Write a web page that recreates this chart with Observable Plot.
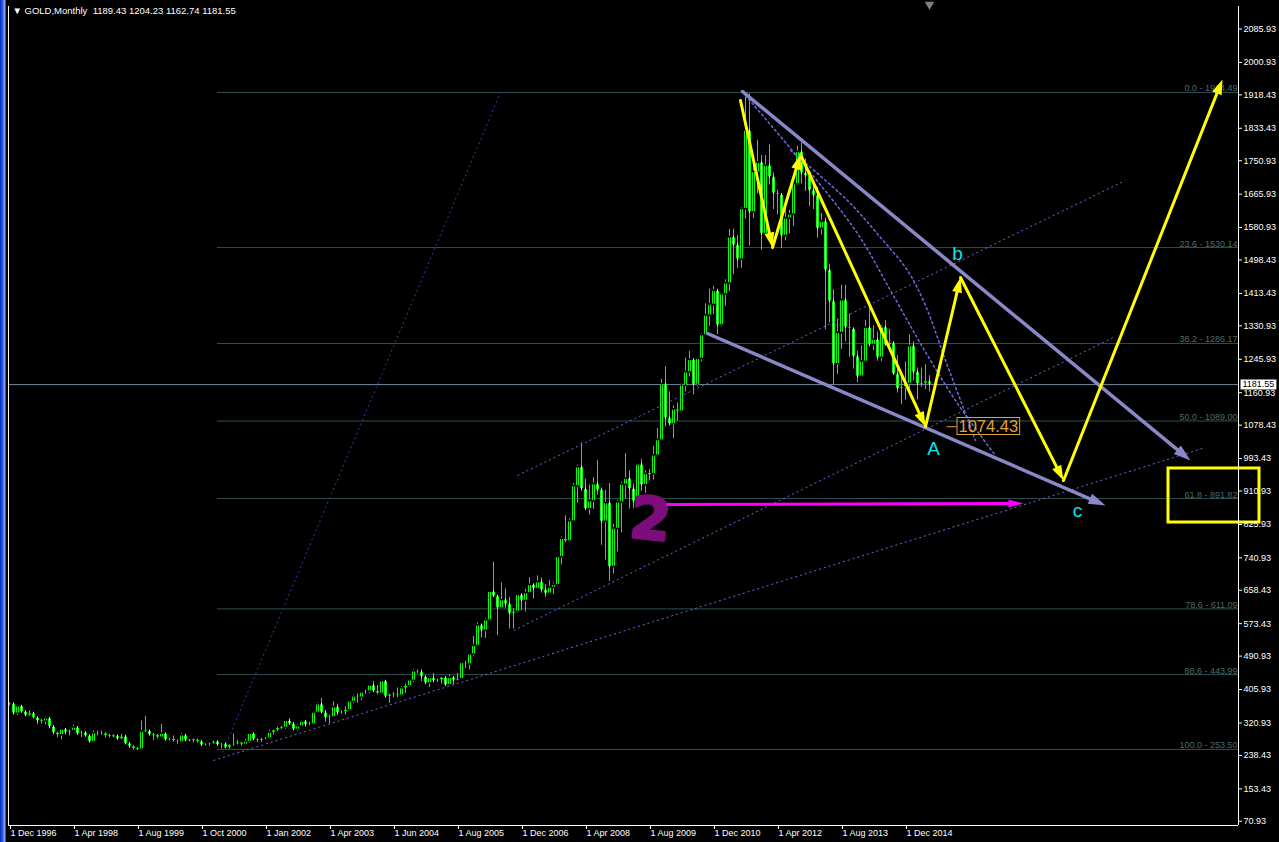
<!DOCTYPE html>
<html><head><meta charset="utf-8">
<script src="https://cdn.jsdelivr.net/npm/d3@7"></script>
<script src="https://cdn.jsdelivr.net/npm/@observablehq/plot@0.6"></script>
<style>
html,body{margin:0;padding:0;background:#000;}
#wrap{position:relative;width:1279px;height:842px;overflow:hidden;background:#000;}
#edge{position:absolute;left:0;top:0;width:6px;height:842px;background:linear-gradient(to right,#0a2fb8 0,#2a5ee8 45%,#7fa2f2 75%,#0a2fb8 100%);}
</style></head>
<body><div id="wrap"><div id="edge"></div></div>
<script>
// ---------- DATA (monthly bars, index 0 = 1 Dec 1996) ----------
const open = [371,
369,345,363,349,340,345,334,326,325,332,311,296,
290,304,297,301,309,293,296,288,273,294,292,294,
288,287,287,280,286,268,261,255,254,299,300,291,
290,284,293,278,280,275,272,289,276,277,278,273,264,266,269,
273,265,267,258,264,267,271,266,273,293,279,275,
279,282,296,302,308,309,326,318,304,312,324,316,318,
347,368,347,334,336,361,346,349,354,375,388,386,398,401,
416,402,396,427,388,393,395,391,409,415,429,452,450,
438,422,435,428,430,436,417,436,429,433,473,470,495,
517,569,556,582,654,643,613,633,623,599,604,646,
632,651,672,662,679,659,650,665,672,743,789,783,
834,923,971,916,865,885,928,913,833,880,718,815,
882,927,942,916,884,978,926,954,954,1001,1040,1182,
1096,1081,1118,1113,1179,1213,1244,1181,1247,1307,1357,1385,
1420,1332,1411,1439,1556,1536,1500,1628,1827,1620,1722,1746,
1565,1738,1709,1668,1664,1560,1604,1614,1691,1773,1719,1712,
1675,1662,1578,1596,1472,1393,1234,1313,1396,1327,1323,1253,
1202,1240,1326,1283,1295,1250,1327,1282,1287,1208,1171,1175,
1184,1279,1213,1183,1184,1189.43];
const high = [372,
370,366,364,349,352,346,335,330,336,334,313,298,
307,304,303,315,312,300,297,289,300,300,300,297,
292,291,290,292,290,268,264,259,326,338,302,294,
292,317,294,282,288,278,294,292,279,280,280,275,268,270,275,
274,269,269,266,293,277,271,279,294,294,280,282,
284,302,303,310,312,328,332,322,316,327,325,323,350,
372,383,353,341,375,369,352,362,376,392,395,400,404,418,
427,416,430,428,394,398,410,413,420,430,456,456,456,
438,439,447,432,437,437,443,436,447,474,478,497,541,
575,573,587,654,730,645,677,662,640,612,648,649,
661,690,673,695,690,673,683,677,744,794,848,840,
930,976,1033,941,926,945,988,919,913,930,826,887,
933,1006,962,929,981,992,962,966,1025,1070,1195,1227,
1163,1127,1135,1183,1249,1266,1246,1250,1310,1387,1424,1432,
1424,1413,1448,1576,1577,1561,1632,1912,1921,1756,1803,1764,
1764,1791,1720,1676,1668,1641,1625,1692,1788,1796,1755,1725,
1696,1683,1617,1605,1488,1423,1348,1434,1434,1361,1324,1267,
1280,1345,1392,1331,1315,1332,1345,1322,1290,1255,1200,1239,
1308,1290,1224,1224,1232,1204.23];
const low = [365,
341,340,346,337,338,334,317,318,316,306,291,283,
278,290,288,300,290,284,285,271,272,288,290,282,
283,283,278,278,267,256,252,251,253,297,288,276,
280,282,276,275,272,267,271,274,273,270,270,263,262,262,267,
262,255,256,254,262,265,262,264,269,276,271,272,
278,281,290,299,305,305,316,301,300,312,310,314,316,
345,346,323,319,334,340,343,341,352,370,371,378,394,396,
398,392,394,384,371,385,385,389,396,411,424,446,426,
418,411,423,424,420,414,414,418,428,433,459,456,489,
516,538,536,581,641,543,613,612,560,560,601,606,
603,648,636,662,651,640,648,648,669,723,780,780,
834,880,910,862,850,864,901,773,735,681,700,756,
805,890,865,866,880,910,905,936,939,1000,1040,1074,
1076,1044,1088,1110,1163,1201,1155,1176,1240,1307,1330,1360,
1309,1328,1381,1418,1462,1477,1478,1602,1535,1604,1667,1523,
1565,1689,1627,1613,1527,1547,1565,1584,1687,1692,1673,1635,
1627,1554,1562,1321,1338,1180,1207,1271,1290,1251,1221,1187,
1202,1238,1277,1268,1241,1240,1281,1273,1206,1160,1131,1142,
1167,1191,1142,1175,1169,1162.74];
const close = [369,
345,363,349,340,345,334,326,325,332,311,296,290,
304,297,301,309,293,296,288,273,294,292,294,288,
287,287,280,286,268,261,255,254,299,300,291,290,
284,293,278,280,275,272,289,276,277,278,273,264,266,269,273,
265,267,258,264,267,271,266,273,293,279,275,279,
282,296,302,308,309,326,318,304,312,324,316,318,347,
368,347,334,336,361,346,349,354,375,388,386,398,401,416,
402,396,427,388,393,395,391,409,415,429,452,450,438,
422,435,428,430,436,417,436,429,433,473,470,495,517,
569,556,582,654,643,613,633,623,599,604,646,632,
651,672,662,679,659,650,665,672,743,789,783,834,
923,971,916,865,885,928,913,833,880,718,815,882,
927,942,916,884,978,926,954,954,1001,1040,1182,1096,
1081,1118,1113,1179,1213,1244,1181,1247,1307,1357,1385,1420,
1332,1411,1439,1556,1536,1500,1628,1827,1620,1722,1746,1565,
1738,1709,1668,1664,1560,1604,1614,1691,1773,1719,1712,1675,
1662,1578,1596,1472,1393,1234,1313,1396,1327,1323,1253,1202,
1240,1326,1283,1295,1250,1327,1282,1287,1208,1171,1175,1184,
1279,1213,1183,1184,1190,1181.55];

const xTickIndex = [0,16,32,48,64,80,96,112,128,144,160,176,192,208,224];
const xTickLabels = ["1 Dec 1996","1 Apr 1998","1 Aug 1999","1 Oct 2000","1 Jan 2002","1 Apr 2003","1 Jun 2004","1 Aug 2005","1 Dec 2006","1 Apr 2008","1 Aug 2009","1 Dec 2010","1 Apr 2012","1 Aug 2013","1 Dec 2014"];
const yTicks = [2085.93,2000.93,1918.43,1833.43,1750.93,1665.93,1580.93,1498.43,1413.43,1330.93,1245.93,1160.93,1078.43,993.43,910.93,825.93,740.93,658.43,573.43,490.93,405.93,320.93,238.43,153.43,70.93];

const fibLevels = ["0.0","23.6","38.2","50.0","61.8","78.6","88.6","100.0"];
const fibPrices = [1924.49,1530.14,1286.17,1089.00,891.82,611.09,443.99,253.50];
const fibStartIndex = 52;
const currentPrice = 1181.55;

// annotation objects (bar index, price)
const dottedLines = [
  {x1:127.0, y1:950.4, x2:279.0, y2:1700.7},
  {x1:126.0, y1:556.2, x2:276.5, y2:1303.9},
  {x1:51.0,  y1:225.5, x2:299.0, y2:1021.6}
];
const steepLine = [{x1:53.25, y1:245.9, x2:122.75, y2:1924.49}];
const arc1 = [[184,1916.9],[197.75,1751.5],[212,1565.9],[220.25,1420.9],[227.75,1286.1],[236,1148.7],[242.75,1052.1],[246.5,1001.2]];
const arc2 = [[195.25,1777.0],[209.5,1649.8],[217.75,1555.7],[224.5,1471.8],[229,1382.7],[234,1242.9],[238.25,1128.4],[241.5,1039.4]];
const purpleArrows = [
  {x1:183.25, y1:1927.0, x2:295.25, y2:988.5},
  {x1:174.5,  y1:1311.5, x2:274.0,  y2:874.1}
];
const yellowPath = [[182.75,1904.2],[190.75,1530.3],[197.75,1766.8],[229.0,1074.43],[237.75,1454.0],[263.5,937.7],[303.25,1957.6]];
const magentaArrow = [{x1:164.5, y1:876.6, x2:253.5, y2:879.2}];
const waveLabels = [{t:"A", x:231, y:1019.0},{t:"b", x:237, y:1515.0},{t:"c", x:267, y:861.4}];
const priceTag = {t:"1074.43", x:236.75, y:1074.43, dashFrom:234.25};
const blob = {t:"2", x:160.25, y:835.9};
const targetBox = [{x1:289.75, x2:312.5, y1:830.8, y2:968.2}];

// ---------- LAYOUT ----------
const W = 1279, H = 842, mL = 8, mR = 41, mT = 6, mB = 17;
const xDomain = [-0.25, 307.25];
const yDomain = [60.18, 2143.22];
const kx = (W - mL - mR) / (xDomain[1] - xDomain[0]);
const ky = (H - mT - mB) / (yDomain[1] - yDomain[0]);
const angle = s => Math.atan2((s.x2 - s.x1) * kx, (s.y2 - s.y1) * ky) * 180 / Math.PI;

const bars = open.map((o, i) => ({i, o, h: high[i], l: low[i], c: close[i], top: Math.max(o, close[i]), bot: Math.min(o, close[i])}));
const minBody = 2.5 / ky;
const bullInner = bars.filter(d => d.c > d.o && d.top - d.bot > minBody);
const bearInner = bars.filter(d => d.c < d.o && d.top - d.bot > minBody);
const fib = fibPrices.map((p, k) => ({p, label: `${fibLevels[k]} - ${p.toFixed(2)}`}));
const yellowSegs = yellowPath.slice(1).map((p, k) => ({x1: yellowPath[k][0], y1: yellowPath[k][1], x2: p[0], y2: p[1]}));
const heads = segs => segs.map(s => ({x: s.x2, y: s.y2, rot: angle(s)}));
const last = open.length - 1;
const header = `\u25BC GOLD,Monthly  ${open[last].toFixed(2)} ${high[last].toFixed(2)} ${low[last].toFixed(2)} ${close[last].toFixed(2)}`;

const fibColor = "#2f5050", fibText = "#4a6b6b";
const dotColor = "#6b6be0", purple = "#8a88c8", yellow = "#ffff00", magenta = "#ff00ff", orange = "#e2a235";

const svg = Plot.plot({
  width: W, height: H,
  marginLeft: mL, marginRight: mR, marginTop: mT, marginBottom: mB,
  x: {domain: xDomain},
  y: {domain: yDomain},
  style: {background: "#000", color: "#fff", fontFamily: "'Liberation Sans', Arial, sans-serif", fontSize: "9px"},
  marks: [
    Plot.ruleY(fib, {y: "p", x1: fibStartIndex, x2: xDomain[1], stroke: fibColor}),
    Plot.text(fib, {y: "p", x: xDomain[1], text: "label", textAnchor: "end", lineAnchor: "bottom", dx: -1, dy: -1, fill: fibText, fontSize: 9}),
    Plot.ruleY([currentPrice], {y: d => d, stroke: "#778899"}),
    // candles
    Plot.ruleX(bars, {x: "i", y1: "l", y2: "h", stroke: "#00ff00"}),
    Plot.ruleX(bars, {x: "i", y1: "bot", y2: "top", stroke: "#00ff00", strokeWidth: 3, insetTop: -0.5, insetBottom: -0.5}),
    Plot.ruleX(bullInner, {x: "i", y1: "bot", y2: "top", stroke: "#000", strokeWidth: 1, insetTop: 1, insetBottom: 1}),
    Plot.ruleX(bearInner, {x: "i", y1: "bot", y2: "top", stroke: "#fff", strokeWidth: 1, insetTop: 1, insetBottom: 1}),
    // dotted studies
    Plot.link(dottedLines, {x1: "x1", y1: "y1", x2: "x2", y2: "y2", stroke: dotColor, strokeDasharray: "2,3"}),
    Plot.link(steepLine, {x1: "x1", y1: "y1", x2: "x2", y2: "y2", stroke: "#3a3aa8", strokeDasharray: "2,3"}),
    Plot.line(arc1, {x: d => d[0], y: d => d[1], curve: "catmull-rom", stroke: dotColor, strokeDasharray: "2,3"}),
    Plot.line(arc2, {x: d => d[0], y: d => d[1], curve: "catmull-rom", stroke: dotColor, strokeDasharray: "2,3"}),
    // purple "2"
    Plot.text([blob], {x: "x", y: "y", text: "t", fontSize: 58, fontWeight: "bold", fontFamily: "DejaVu Sans", fill: "#7d0c7d", stroke: "#7d0c7d", strokeWidth: 3, strokeLinejoin: "round", lineAnchor: "middle", rotate: 6}),
    // purple arrowed lines
    Plot.arrow(purpleArrows, {x1: "x1", y1: "y1", x2: "x2", y2: "y2", stroke: purple, strokeWidth: 3.5, headLength: 0, insetEnd: 10}),
    Plot.vector(heads(purpleArrows), {x: "x", y: "y", rotate: "rot", length: 17, r: 5.5, shape: "spike", anchor: "end", fill: purple, stroke: "none"}),
    // magenta arrow
    Plot.arrow(magentaArrow, {x1: "x1", y1: "y1", x2: "x2", y2: "y2", stroke: magenta, strokeWidth: 3, headLength: 0, insetEnd: 8}),
    Plot.vector(heads(magentaArrow), {x: "x", y: "y", rotate: "rot", length: 15, r: 4, shape: "spike", anchor: "end", fill: magenta, stroke: "none"}),
    // yellow wave arrows
    Plot.arrow(yellowSegs, {x1: "x1", y1: "y1", x2: "x2", y2: "y2", stroke: yellow, strokeWidth: 3, headLength: 0, insetEnd: 8}),
    Plot.vector(heads(yellowSegs), {x: "x", y: "y", rotate: "rot", length: 15, r: 5, shape: "spike", anchor: "end", fill: yellow, stroke: "none"}),
    // target box
    Plot.rect(targetBox, {x1: "x1", x2: "x2", y1: "y1", y2: "y2", fill: "none", stroke: yellow, strokeWidth: 3}),
    // price tag 1074.43
    Plot.link([priceTag], {x1: "dashFrom", x2: "x", y1: "y", y2: "y", stroke: orange}),
    Plot.text([priceTag], {x: "x", y: "y", text: "t", textAnchor: "start", lineAnchor: "middle", dx: 2, fill: orange, fontSize: 16.5}),
    // wave labels
    Plot.text(waveLabels, {x: "x", y: "y", text: "t", fill: "#00e8f0", fontSize: 19, lineAnchor: "middle"}),
    // frame lines
    Plot.ruleX([xDomain[0], xDomain[1]], {x: d => d, stroke: "#fff"}),
    Plot.ruleY([yDomain[0]], {y: d => d, stroke: "#fff"}),
    // axes
    Plot.axisY({anchor: "right", ticks: yTicks, tickFormat: d => d.toFixed(2), tickSize: 3, tickPadding: 2, fontSize: 9, label: null}),
    Plot.axisX({anchor: "bottom", ticks: xTickIndex, tickFormat: d => xTickLabels[xTickIndex.indexOf(d)], tickSize: 4, tickPadding: 0, textAnchor: "start", dx: 1, fontSize: 9, label: null}),
    // current price tag on axis
    Plot.text([currentPrice], {x: xDomain[1], y: d => d, text: d => d.toFixed(2), textAnchor: "start", lineAnchor: "middle", dx: 4, fill: "#000", fontSize: 9}),
    // header and shift marker
    Plot.text([header], {text: d => d, frameAnchor: "top-left", dx: 4, dy: 1, textAnchor: "start", lineAnchor: "top", fill: "#fff", fontSize: 9.5}),
    Plot.dot([last], {x: d => d, frameAnchor: "top", symbol: "triangle", rotate: 180, r: 3.5, fill: "#808080", stroke: "none", dy: -2})
  ]
});
document.getElementById("wrap").appendChild(svg);

// boxes behind the two price tags (sized from the rendered text)
function addBox(content, padX, padY, fill, stroke) {
  Array.from(svg.querySelectorAll("text")).filter(t => t.textContent.trim() === content).forEach(t => {
    const b = t.getBBox();
    const r = document.createElementNS("http://www.w3.org/2000/svg", "rect");
    r.setAttribute("x", b.x - padX);
    r.setAttribute("y", b.y - padY);
    r.setAttribute("width", b.width + 2 * padX);
    r.setAttribute("height", b.height + 2 * padY);
    r.setAttribute("fill", fill);
    r.setAttribute("stroke", stroke);
    const tr = t.getAttribute("transform");
    if (tr) r.setAttribute("transform", tr);
    t.parentNode.insertBefore(r, t);
  });
}
addBox(currentPrice.toFixed(2), 2, 0, "#fff", "none");
addBox(priceTag.t, 1.5, -0.5, "none", orange);
</script></body></html>
